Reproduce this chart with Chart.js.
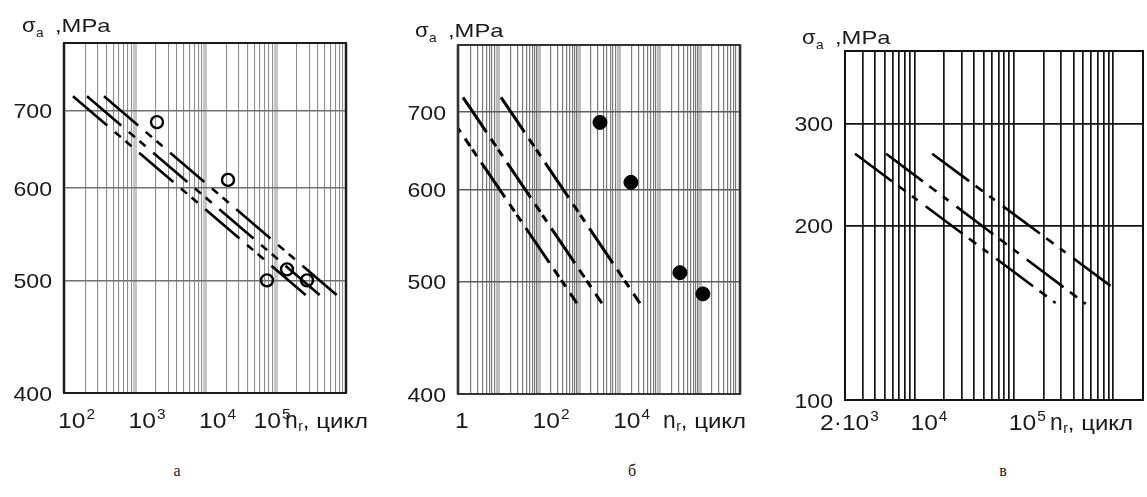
<!DOCTYPE html>
<html>
<head>
<meta charset="utf-8">
<script src="https://cdn.jsdelivr.net/npm/chart.js@4.4.1/dist/chart.umd.min.js"></script>
<style>
  html, body { margin: 0; padding: 0; background: #fff; }
  body { width: 1147px; height: 497px; position: relative; overflow: hidden; }
  canvas.panel { position: absolute; top: 0; }
  .caption {
    position: absolute; top: 462px; line-height: 20px;
    font: 16px "Liberation Serif", "Times New Roman", serif; color: #222;
    transform: translateX(-50%);
  }
</style>
</head>
<body>
<canvas id="chart-a" class="panel" width="380" height="440" style="left:0px"></canvas>
<canvas id="chart-b" class="panel" width="380" height="440" style="left:380px"></canvas>
<canvas id="chart-c" class="panel" width="387" height="440" style="left:760px"></canvas>
<div class="caption" style="left:177px">а</div>
<div class="caption" style="left:632px">б</div>
<div class="caption" style="left:1003px">в</div>

<script>
// ---- panel а : hollow circles ----
const aRangeN = [1e2, 1e6];
const aRangeS = [400, 800];
const aTickS = [400, 500, 600, 700];
const aTickN = [1e2, 1e3, 1e4, 1e5];
const aTickText = ['10^2', '10^3', '10^4', '10^5'];
const aLineN0 = [134, 212, 369];
const aLineS0 = [720, 720, 720];
const aLineN1 = [298500, 472000, 822000];
const aLineS1 = [483, 483, 483];
const aTestN = [2085, 21200, 75700, 145600, 280000];
const aTestS = [684, 610, 500, 511, 500];

// ---- panel б : filled circles ----
const bRangeN = [1, 1e7];
const bRangeS = [400, 800];
const bTickS = [400, 500, 600, 700];
const bTickN = [1, 1e2, 1e4];
const bTickText = ['1', '10^2', '10^4'];
const bLineN0 = [1.33, 11.7, 0.30];
const bLineS0 = [721, 721, 721];
const bLineN1 = [3740, 32800, 897];
const bLineS1 = [479, 479, 479];
const bTestN = [3340, 19600, 323000, 1200000];
const bTestS = [686, 609, 509, 488];

// ---- panel в ----
const cRangeN = [2e3, 2e6];
const cRangeS = [100, 400];
const cTickS = [100, 200, 300];
const cTickN = [2e3, 1e4, 1e5];
const cTickText = ['2·10^3', '10^4', '10^5'];
const cLineN0 = [2524, 5190, 15100];
const cLineS0 = [266, 266, 266];
const cLineN1 = [264000, 531000, 973000];
const cLineS1 = [147, 146.5, 156.7];

const SANS = '"Liberation Sans", Arial, sans-serif';
const INK = '#1a1a1a';

const panels = [
  {
    id: 'chart-a', rangeN: aRangeN, rangeS: aRangeS, tickS: aTickS, tickN: aTickN, tickText: aTickText,
    lineN0: aLineN0, lineS0: aLineS0, lineN1: aLineN1, lineS1: aLineS1, testN: aTestN, testS: aTestS,
    box: { top: 43, right: 34, yw: 64, xh: 47 },
    look: {
      lineWidth: 2.6, dash: [45, 10, 8, 6, 8, 10],
      decade: '#c6c6c6', decadeW: 4, minor: '#8e8e8e', minorW: 1.1,
      hgrid: '#707070', hgridW: 1.6, frame: '#1a1a1a', frameW: 2,
      pointR: 6, pointBW: 2.4, pointFill: 'rgba(0,0,0,0)',
      labelDy: 35, nudge: [0, 0, 0, -16], titleDx: -61, sigma: [-42, -11]
    }
  },
  {
    id: 'chart-b', rangeN: bRangeN, rangeS: bRangeS, tickS: bTickS, tickN: bTickN, tickText: bTickText,
    lineN0: bLineN0, lineS0: bLineS0, lineN1: bLineN1, lineS1: bLineS1, testN: bTestN, testS: bTestS,
    box: { top: 45, right: 20, yw: 78, xh: 46 },
    look: {
      lineWidth: 3, dash: [42, 8, 9, 4, 8, 8],
      decade: '#bdbdbd', decadeW: 4, minor: '#7c7c7c', minorW: 1.2,
      hgrid: '#5c5c5c', hgridW: 1.6, frame: '#333333', frameW: 2,
      pointR: 7, pointBW: 1, pointFill: '#000',
      labelDy: 34, nudge: [3, 0, 0], titleDx: -77, sigma: [-43, -8]
    }
  },
  {
    id: 'chart-c', rangeN: cRangeN, rangeS: cRangeS, tickS: cTickS, tickN: cTickN, tickText: cTickText,
    lineN0: cLineN0, lineS0: cLineS0, lineN1: cLineN1, lineS1: cLineS1,
    box: { top: 51, right: 4, yw: 85, xh: 40 },
    look: {
      lineWidth: 2.6, dash: [46, 8, 9, 8, 7, 10],
      decade: '#141414', decadeW: 1.7, minor: '#141414', minorW: 1.7,
      hgrid: '#141414', hgridW: 1.8, frame: '#111111', frameW: 2,
      labelDy: 30, nudge: [-19, 2, 1], titleDx: -93, sigma: [-43, -7]
    }
  }
];

// grid values 1..9 x 10^k between the axis limits
function logGrid(min, max) {
  const vals = [];
  for (let k = Math.floor(Math.log10(min)); k <= Math.ceil(Math.log10(max)); k++) {
    for (let m = 1; m <= 9; m++) {
      const v = m * Math.pow(10, k);
      if (v >= min * (1 - 1e-9) && v <= max * (1 + 1e-9)) vals.push(v);
    }
  }
  return vals;
}

function isDecade(v) {
  const l = Math.log10(v);
  return Math.abs(l - Math.round(l)) < 1e-9;
}

// text slightly widened, like the scanned lettering
function drawText(ctx, str, x, y, size, sx, align) {
  ctx.save();
  ctx.font = size + 'px ' + SANS;
  ctx.textAlign = 'left';
  ctx.textBaseline = 'alphabetic';
  ctx.fillStyle = INK;
  const w = ctx.measureText(str).width * sx;
  let x0 = x;
  if (align === 'right') x0 = x - w;
  if (align === 'center') x0 = x - w / 2;
  ctx.translate(x0, y);
  ctx.scale(sx, 1);
  ctx.fillText(str, 0, 0);
  ctx.restore();
  return x0 + w;
}

function drawPower(ctx, label, x, y) {
  const parts = label.split('^');
  let end = drawText(ctx, parts[0], x, y, 22, 1.12);
  if (parts[1]) drawText(ctx, parts[1], end + 1, y - 9, 14, 1.1);
}

function panelDecor(p) {
  return {
    id: 'panelDecor',
    afterDraw(chart) {
      const { ctx, chartArea: a, scales } = chart;
      const L = p.look;

      // frame
      ctx.save();
      ctx.strokeStyle = L.frame;
      ctx.lineWidth = L.frameW;
      ctx.strokeRect(a.left, a.top, a.right - a.left, a.bottom - a.top);
      ctx.restore();

      // stress ticks
      p.tickS.forEach(v => {
        drawText(ctx, String(v), a.left - 12, scales.y.getPixelForValue(v) + 7.5, 21, 1.1, 'right');
      });

      // cycle ticks
      p.tickText.forEach((t, i) => {
        drawPower(ctx, t, scales.x.getPixelForValue(p.tickN[i]) - 6 + L.nudge[i], a.bottom + L.labelDy);
      });

      // x title: n_r, цикл
      const bx = a.right + L.titleDx;
      const by = a.bottom + L.labelDy;
      let e = drawText(ctx, 'n', bx, by, 24, 0.95);
      e = drawText(ctx, 'r', e + 0.5, by + 3, 14, 1.0);
      drawText(ctx, ', цикл', e, by, 20, 1.2);

      // y title: σa ,MPa
      const sx = a.left + L.sigma[0];
      const sy = a.top + L.sigma[1];
      e = drawText(ctx, 'σ', sx, sy, 20, 1.1);
      drawText(ctx, 'a', e + 0.5, sy + 5, 13, 1.05);
      drawText(ctx, ',MPa', sx + 33, sy, 19, 1.25);
    }
  };
}

function buildChart(p) {
  const L = p.look;
  const datasets = p.lineN0.map((n0, i) => ({
    data: [{ x: n0, y: p.lineS0[i] }, { x: p.lineN1[i], y: p.lineS1[i] }],
    showLine: true,
    borderColor: '#000',
    borderWidth: L.lineWidth,
    borderDash: L.dash,
    borderCapStyle: 'butt',
    pointRadius: 0,
    fill: false
  }));
  if (p.testN) {
    datasets.push({
      data: p.testN.map((n, i) => ({ x: n, y: p.testS[i] })),
      showLine: false,
      pointStyle: 'circle',
      pointRadius: L.pointR,
      pointBorderWidth: L.pointBW,
      pointBorderColor: '#000',
      pointBackgroundColor: L.pointFill
    });
  }

  const gridN = logGrid(p.rangeN[0], p.rangeN[1]);

  return new Chart(document.getElementById(p.id), {
    type: 'scatter',
    data: { datasets: datasets },
    options: {
      responsive: false,
      animation: false,
      events: [],
      layout: { padding: { top: p.box.top, right: p.box.right, left: 0, bottom: 0 } },
      plugins: { legend: { display: false }, tooltip: { enabled: false } },
      scales: {
        x: {
          type: 'logarithmic',
          min: p.rangeN[0],
          max: p.rangeN[1],
          afterFit: function(scale) { scale.height = p.box.xh; },
          afterBuildTicks: function(scale) { scale.ticks = gridN.map(v => ({ value: v })); },
          ticks: { display: false },
          border: { display: false },
          grid: {
            drawTicks: false,
            color: c => (c.tick && isDecade(c.tick.value)) ? L.decade : L.minor,
            lineWidth: c => (c.tick && isDecade(c.tick.value)) ? L.decadeW : L.minorW
          }
        },
        y: {
          type: 'logarithmic',
          min: p.rangeS[0],
          max: p.rangeS[1],
          afterFit: function(scale) { scale.width = p.box.yw; },
          afterBuildTicks: function(scale) { scale.ticks = p.tickS.map(v => ({ value: v })); },
          ticks: { display: false },
          border: { display: false },
          grid: { drawTicks: false, color: L.hgrid, lineWidth: L.hgridW }
        }
      }
    },
    plugins: [panelDecor(p)]
  });
}

window.chartInstances = panels.map(buildChart);
</script>
</body>
</html>
